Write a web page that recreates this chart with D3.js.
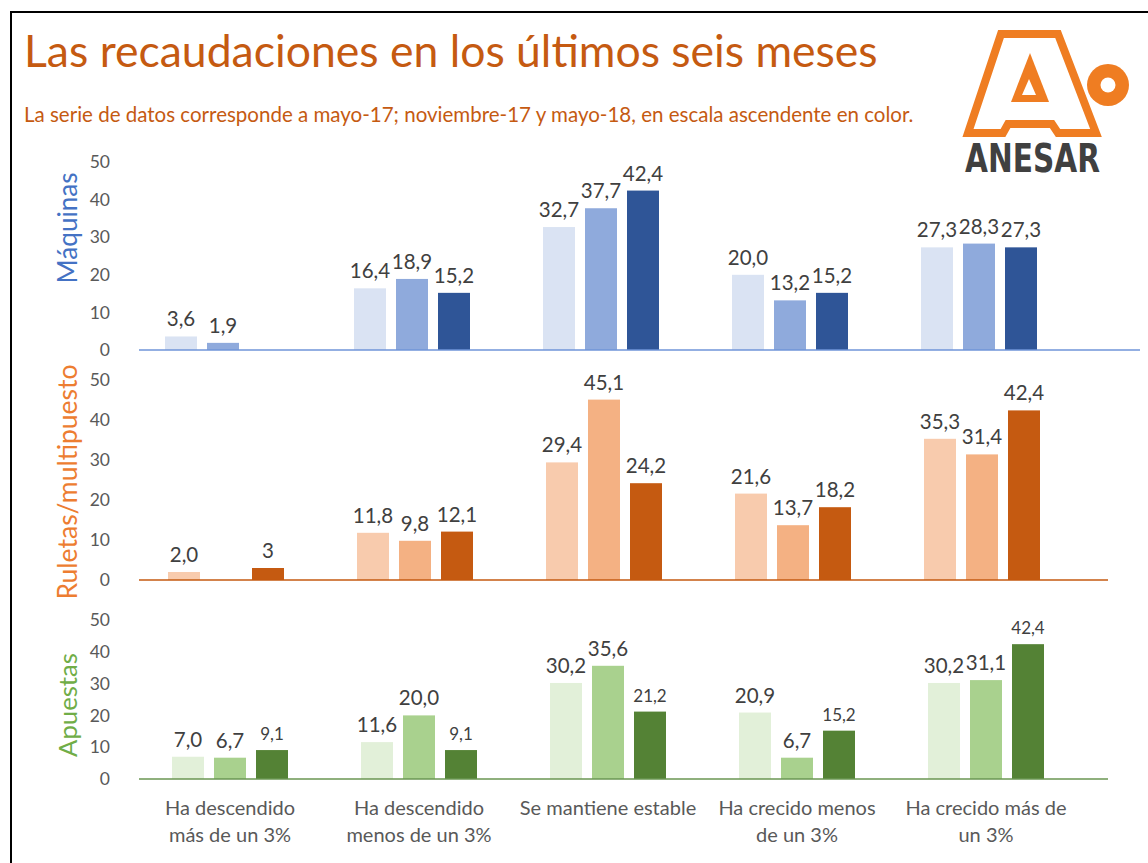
<!DOCTYPE html>
<html>
<head>
<meta charset="utf-8">
<script src="https://cdn.jsdelivr.net/npm/d3@7"></script>
<style>
  body { margin: 0; background: #fff; }
  svg { display: block; font-family: Lato, "Noto Sans", sans-serif; }
</style>
</head>
<body>
<svg id="chart" width="1148" height="863"></svg>
<script>
const categories = [
  ['Ha descendido', 'más de un 3%'],
  ['Ha descendido', 'menos de un 3%'],
  ['Se mantiene estable'],
  ['Ha crecido menos', 'de un 3%'],
  ['Ha crecido más de', 'un 3%']
];
const periods = ['mayo-17', 'noviembre-17', 'mayo-18'];
const yTicks = [0, 10, 20, 30, 40, 50];

// values as printed on the chart: one row per category, one column per period
const maquinas = [
  ['3,6', '1,9', null],
  ['16,4', '18,9', '15,2'],
  ['32,7', '37,7', '42,4'],
  ['20,0', '13,2', '15,2'],
  ['27,3', '28,3', '27,3']
];
const ruletas = [
  ['2,0', null, '3'],
  ['11,8', '9,8', '12,1'],
  ['29,4', '45,1', '24,2'],
  ['21,6', '13,7', '18,2'],
  ['35,3', '31,4', '42,4']
];
const apuestas = [
  ['7,0', '6,7', '9,1'],
  ['11,6', '20,0', '9,1'],
  ['30,2', '35,6', '21,2'],
  ['20,9', '6,7', '15,2'],
  ['30,2', '31,1', '42,4']
];

const svg = d3.select('#chart');
const toNum = s => +s.replace(',', '.');

function fitWidth(sel, w) {
  const len = sel.node().getComputedTextLength();
  const fs = parseFloat(sel.attr('font-size'));
  sel.attr('font-size', fs * w / len);
}

// frame
svg.append('path')
  .attr('d', 'M11,863V12H1148')
  .attr('fill', 'none')
  .attr('stroke', '#000')
  .attr('stroke-width', 2);

// title + subtitle
const title = svg.append('text')
  .attr('x', 24).attr('y', 67)
  .attr('font-size', 36)
  .attr('fill', '#C55A11')
  .text('Las recaudaciones en los últimos seis meses');
fitWidth(title, 854);

const subtitle = svg.append('text')
  .attr('x', 24).attr('y', 122)
  .attr('font-size', 16)
  .attr('fill', '#C55A11')
  .text('La serie de datos corresponde a mayo-17; noviembre-17 y mayo-18, en escala ascendente en color.');
fitWidth(subtitle, 890);

// logo
const logo = svg.append('g');
logo.append('polygon')
  .attr('points', '968,133 1003,133 1008,124 1052,124 1058,133 1096,133 1058,34 1001,34')
  .attr('fill', '#fff')
  .attr('stroke', '#EF7D22')
  .attr('stroke-width', 8)
  .attr('stroke-linejoin', 'miter');
logo.append('polygon')
  .attr('points', '1030,53 1049,102 1011,102')
  .attr('fill', '#EF7D22');
logo.append('polygon')
  .attr('points', '1029,79 1036,95 1022,95')
  .attr('fill', '#fff');
logo.append('circle').attr('cx', 1108).attr('cy', 85).attr('r', 21).attr('fill', '#EF7D22');
logo.append('circle').attr('cx', 1108).attr('cy', 85).attr('r', 7.5).attr('fill', '#fff');
logo.append('text')
  .attr('x', 965).attr('y', 172)
  .attr('font-family', '"DejaVu Sans Condensed", "Liberation Sans Narrow", sans-serif')
  .attr('font-weight', 'bold')
  .attr('font-size', 39)
  .attr('textLength', 135)
  .attr('lengthAdjust', 'spacingAndGlyphs')
  .attr('fill', '#404040')
  .text('ANESAR');

const panels = [
  { name: 'Máquinas', data: maquinas, colors: ['#DAE3F3', '#8FAADC', '#2F5597'],
    titleColor: '#4472C4', lineColor: '#6F95D8', top: 162, bottom: 350, first: 223,
    lineEnd: 1140, titleY: 228, titleLen: 111, labelSize: [20.5, 20.5, 20.5] },
  { name: 'Ruletas/multipuesto', data: ruletas, colors: ['#F8CBAD', '#F4B183', '#C55A11'],
    titleColor: '#ED7D31', lineColor: '#C55A11', top: 380, bottom: 580, first: 226,
    lineEnd: 1108, titleY: 482, titleLen: 235, labelSize: [20.5, 20.5, 20.5] },
  { name: 'Apuestas', data: apuestas, colors: ['#E2F0D9', '#A9D18E', '#548235'],
    titleColor: '#70AD47', lineColor: '#6A9652', top: 620, bottom: 779, first: 230,
    lineEnd: 1108, titleY: 705, titleLen: 104, labelSize: [20.5, 20.5, 17] }
];

let x;
panels.forEach(p => {
  x = d3.scaleBand()
    .domain(d3.range(categories.length))
    .range([p.first - 94.5, p.first + 4 * 189 + 94.5]);
  const sub = d3.scaleBand()
    .domain(d3.range(periods.length))
    .range([-58, 58])
    .paddingInner(10 / 42);
  const y = d3.scaleLinear().domain([0, 50]).range([p.bottom, p.top]);

  const g = svg.append('g');

  // y axis
  const ax = g.append('g')
    .attr('transform', 'translate(110,0)')
    .call(d3.axisLeft(y).tickValues(yTicks).tickSize(0).tickPadding(0));
  ax.select('.domain').remove();
  ax.selectAll('text')
    .attr('font-family', 'Lato, "Noto Sans", sans-serif')
    .attr('font-size', 17.5)
    .attr('fill', '#595959');

  // axis title
  const t = g.append('text')
    .attr('transform', `translate(77,${p.titleY}) rotate(-90)`)
    .attr('text-anchor', 'middle')
    .attr('font-size', 24)
    .attr('fill', p.titleColor)
    .text(p.name);
  fitWidth(t, p.titleLen);

  // bars
  const cells = [];
  p.data.forEach((row, i) => row.forEach((s, j) => {
    if (s !== null) cells.push({ i, j, label: s, value: toNum(s) });
  }));

  g.selectAll('rect.bar')
    .data(cells)
    .enter()
    .append('rect')
    .attr('class', 'bar')
    .attr('x', d => x(d.i) + x.bandwidth() / 2 + sub(d.j))
    .attr('width', sub.bandwidth())
    .attr('y', d => y(d.value))
    .attr('height', d => y(0) - y(d.value))
    .attr('fill', d => p.colors[d.j]);

  g.selectAll('text.lbl')
    .data(cells)
    .enter()
    .append('text')
    .attr('class', 'lbl')
    .attr('x', d => x(d.i) + x.bandwidth() / 2 + sub(d.j) + sub.bandwidth() / 2)
    .attr('y', d => y(d.value) - 10)
    .attr('text-anchor', 'middle')
    .attr('font-size', d => p.labelSize[d.j])
    .attr('fill', '#404040')
    .text(d => d.label);

  // baseline
  g.append('line')
    .attr('x1', 139).attr('x2', p.lineEnd)
    .attr('y1', y(0)).attr('y2', y(0))
    .attr('stroke', p.lineColor)
    .attr('stroke-width', 1.5);
});

// category labels under the last panel
const cat = svg.append('g');
categories.forEach((lines, i) => {
  const t = cat.append('text')
    .attr('x', x(i) + x.bandwidth() / 2)
    .attr('y', 815)
    .attr('text-anchor', 'middle')
    .attr('font-size', 20)
    .attr('fill', '#595959');
  lines.forEach((l, k) => {
    t.append('tspan')
      .attr('x', x(i) + x.bandwidth() / 2)
      .attr('dy', k === 0 ? 0 : 27)
      .text(l);
  });
});
</script>
</body>
</html>
